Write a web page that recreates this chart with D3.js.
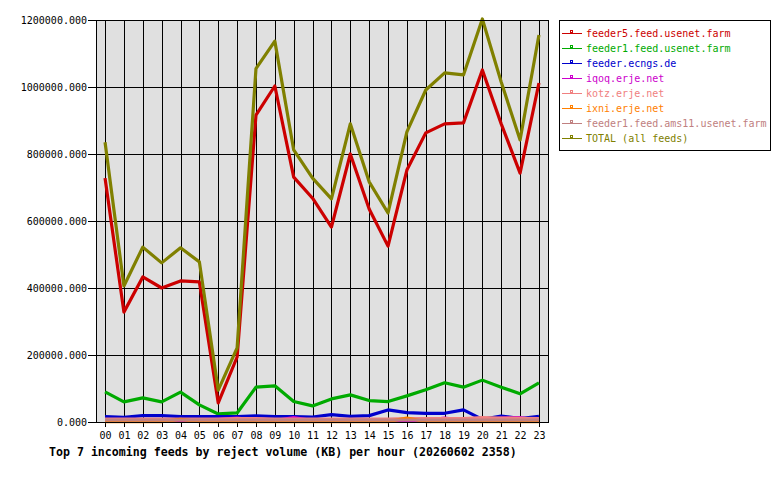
<!DOCTYPE html>
<html>
<head>
<meta charset="utf-8">
<script src="https://cdn.jsdelivr.net/npm/d3@7"></script>
<style>
  body { margin: 0; background: #fff; }
  text { font-family: "DejaVu Sans Mono", monospace; }
</style>
</head>
<body>
<svg id="chart" width="780" height="480"></svg>
<script>
(function() {

  var hours = ["00", "01", "02", "03", "04", "05", "06", "07", "08", "09", "10", "11",
               "12", "13", "14", "15", "16", "17", "18", "19", "20", "21", "22", "23"];

  var feedNames = ["feeder5.feed.usenet.farm", "feeder1.feed.usenet.farm", "feeder.ecngs.de",
                   "iqoq.erje.net", "kotz.erje.net", "ixni.erje.net",
                   "feeder1.feed.ams11.usenet.farm", "TOTAL (all feeds)"];

  var feedColors = ["#cc0000", "#00aa00", "#0000cc", "#cc00cc", "#f08080", "#ff8000", "#c08080", "#808000"];

  var yTicks = [0, 200000, 400000, 600000, 800000, 1000000, 1200000];

  var feeder5 = [728000, 328000, 433000, 400000, 421000, 418000, 57000, 194000, 916000, 1003000, 731000, 668000,
                 582000, 800000, 636000, 525000, 752000, 863000, 890000, 893000, 1051000, 890000, 743000, 1012000];
  var feeder1 = [90000, 60000, 72000, 60000, 89000, 51000, 24000, 27000, 104000, 108000, 61000, 48000,
                 69000, 81000, 64000, 61000, 78000, 96000, 117000, 104000, 125000, 104000, 84000, 117000];
  var ecngs = [16000, 14000, 19000, 19000, 16000, 16000, 16000, 16000, 18000, 16000, 16000, 15000,
               22000, 17000, 19000, 36000, 28000, 26000, 26000, 36000, 8000, 18000, 10000, 17000];
  var iqoq = [3000, 3000, 4000, 3000, 3000, 4000, 8000, 12000, 5000, 4000, 13000, 4000,
              4000, 3000, 4000, 4000, 4000, 5000, 12000, 5000, 5000, 12000, 13000, 4000];
  var kotz = [9000, 9000, 9000, 9000, 9000, 9000, 9000, 10000, 10000, 9000, 9000, 9000,
              9000, 9000, 9000, 9000, 10000, 10000, 10000, 10000, 13000, 12000, 11000, 10000];
  var ixni = [1000, 1000, 1000, 1000, 8000, 1000, 1000, 1000, 1000, 1000, 1000, 1000,
              1000, 1000, 1000, 1000, 12000, 1000, 1000, 1000, 1000, 1000, 1000, 1000];
  var ams11 = [6000, 6000, 6000, 6000, 6000, 6000, 6000, 6000, 6000, 6000, 6000, 6000,
               6000, 6000, 6000, 6000, 6000, 6000, 6000, 6000, 6000, 6000, 6000, 6000];
  var total = [835000, 406000, 522000, 475000, 520000, 478000, 95000, 221000, 1055000, 1137000, 812000, 728000,
               666000, 890000, 717000, 624000, 866000, 991000, 1042000, 1036000, 1203000, 1015000, 842000, 1155000];

  var feedValues = [feeder5, feeder1, ecngs, iqoq, kotz, ixni, ams11, total];

  var title = "Top 7 incoming feeds by reject volume (KB) per hour (20260602 2358)";

  var left = 96,
      right = 548,
      top = 20,
      bottom = 422;

  var svg = d3.select("#chart");

  var x = d3.scalePoint()
      .domain(hours)
      .range([left, right])
      .padding(0.48);

  var y = d3.scaleLinear()
      .domain([0, 1200000])
      .range([bottom, top]);

  // plot background
  svg.append("rect")
      .attr("x", left)
      .attr("y", top)
      .attr("width", right - left)
      .attr("height", bottom - top)
      .attr("fill", "#e0e0e0");

  // grid
  svg.append("g")
      .attr("class", "grid")
      .selectAll("line.h").data(yTicks).enter().append("line")
        .attr("x1", left - 8)
        .attr("x2", right)
        .attr("y1", d => Math.round(y(d)) + 0.5)
        .attr("y2", d => Math.round(y(d)) + 0.5)
        .attr("stroke", "#000")
        .attr("shape-rendering", "crispEdges");

  svg.append("g")
      .selectAll("line").data(hours).enter().append("line")
        .attr("x1", d => Math.round(x(d)) + 0.5)
        .attr("x2", d => Math.round(x(d)) + 0.5)
        .attr("y1", top)
        .attr("y2", bottom + 5)
        .attr("stroke", "#000")
        .attr("shape-rendering", "crispEdges");

  // y labels
  svg.append("g")
      .selectAll("text").data(yTicks).enter().append("text")
        .attr("x", left - 9)
        .attr("y", d => y(d))
        .attr("dy", "0.35em")
        .attr("text-anchor", "end")
        .style("font-size", "10px")
        .attr("fill", "#000")
        .text(d3.format(".3f"));

  // x labels
  svg.append("g")
      .selectAll("text").data(hours).enter().append("text")
        .attr("x", d => x(d) + 0.5)
        .attr("y", bottom + 17)
        .attr("text-anchor", "middle")
        .style("font-size", "10px")
        .attr("fill", "#000")
        .text(d => d);

  // series, drawn in legend order (TOTAL last)
  var line = d3.line()
      .x((d, i) => x(hours[i]))
      .y(d => y(d));

  svg.append("g")
      .selectAll("path").data(feedValues).enter().append("path")
        .attr("d", line)
        .attr("fill", "none")
        .attr("stroke", (d, i) => feedColors[i])
        .attr("stroke-width", 3.2)
        .attr("stroke-linejoin", "round");

  // plot frame
  svg.append("rect")
      .attr("x", left + 0.5)
      .attr("y", top + 0.5)
      .attr("width", right - left)
      .attr("height", bottom - top)
      .attr("fill", "none")
      .attr("stroke", "#000")
      .attr("shape-rendering", "crispEdges");

  // title
  svg.append("text")
      .attr("x", 49)
      .attr("y", 456)
      .style("font-size", "11.6px")
      .style("font-weight", "bold")
      .attr("fill", "#000")
      .text(title);

  // legend
  var legend = svg.append("g")
      .attr("class", "legend");

  legend.append("rect")
      .attr("x", 559.5)
      .attr("y", 20.5)
      .attr("width", 211)
      .attr("height", 130)
      .attr("fill", "#fff")
      .attr("stroke", "#000")
      .attr("shape-rendering", "crispEdges");

  var rows = legend.selectAll("g.row")
      .data(feedNames)
    .enter().append("g")
      .attr("class", "row")
      .attr("transform", (d, i) => "translate(0," + (33 + i * 15) + ")");

  rows.append("line")
      .attr("x1", 562)
      .attr("x2", 582)
      .attr("y1", 0.5)
      .attr("y2", 0.5)
      .attr("stroke", (d, i) => feedColors[i])
      .attr("shape-rendering", "crispEdges");

  rows.append("rect")
      .attr("x", 570.5)
      .attr("y", -2.5)
      .attr("width", 2)
      .attr("height", 2)
      .attr("fill", "none")
      .attr("stroke", (d, i) => feedColors[i])
      .attr("shape-rendering", "crispEdges");

  rows.append("text")
      .attr("x", 586)
      .attr("y", 0)
      .attr("dy", "0.35em")
      .style("font-size", "10px")
      .attr("fill", (d, i) => feedColors[i])
      .text(d => d);

})();
</script>
</body>
</html>
